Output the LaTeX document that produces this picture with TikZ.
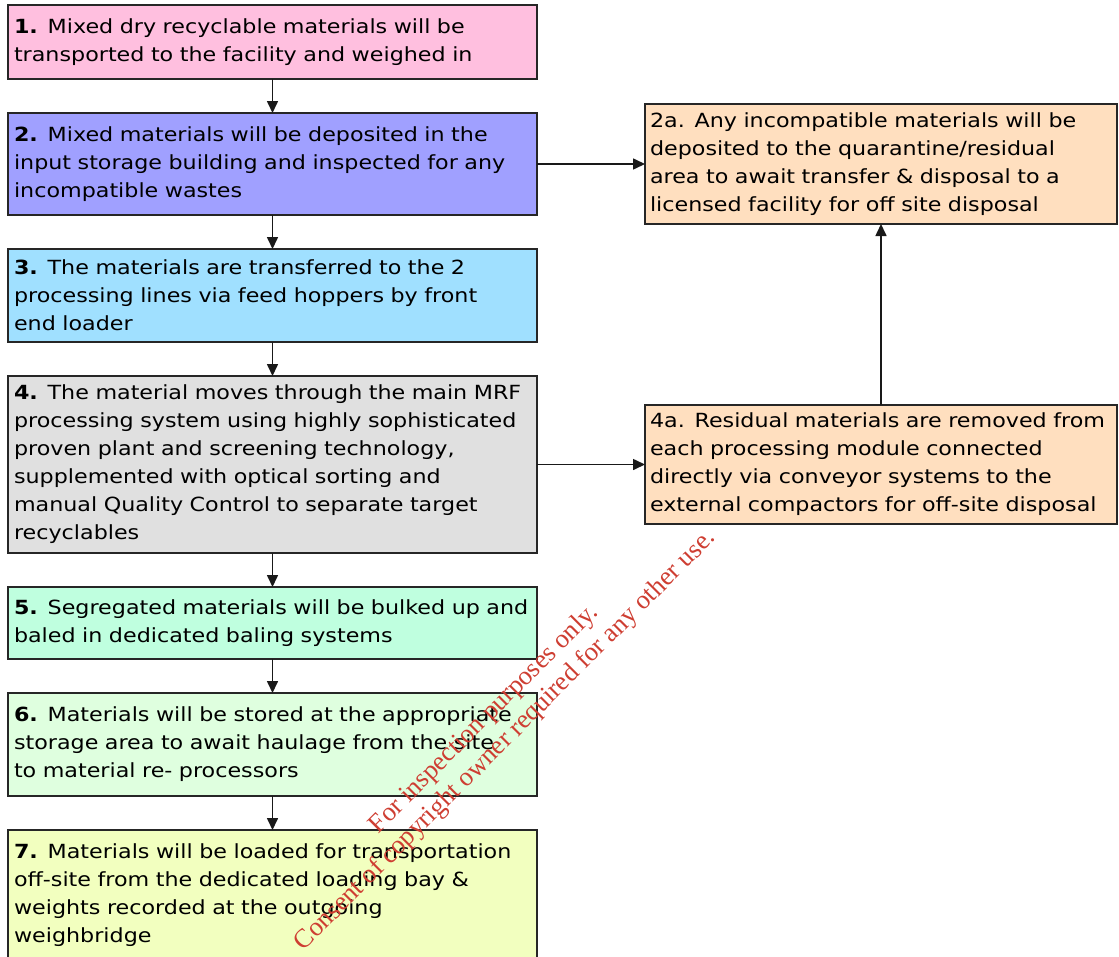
\documentclass[tikz,border=0pt]{standalone}
\usepackage{fontspec}
\setmainfont[FakeStretch=1.14]{DejaVu Sans}
\newfontfamily\markfont{Liberation Serif}
\usepackage{xcolor}
\usetikzlibrary{arrows.meta,positioning}

\definecolor{pinkbox}{RGB}{255,191,223}
\definecolor{bluebox}{RGB}{160,160,255}
\definecolor{skybox}{RGB}{160,224,255}
\definecolor{greybox}{RGB}{224,224,224}
\definecolor{mintbox}{RGB}{191,255,223}
\definecolor{palebox}{RGB}{223,255,223}
\definecolor{lemonbox}{RGB}{242,255,191}
\definecolor{peachbox}{RGB}{255,223,191}
\definecolor{markred}{RGB}{206,62,50}

\begin{document}
\begin{tikzpicture}[
    node distance=34pt,
    box/.style={draw=black!85, line width=1.6pt, outer sep=0pt, text width=517pt, inner xsep=6pt, inner ysep=0pt, align=left, font=\fontsize{19.5}{28}\selectfont},
    sidebox/.style={box, text width=462pt, inner xsep=5pt, fill=peachbox},
    arr/.style={-{Triangle[length=12pt, width=11pt]}, line width=1.6pt, black!90}
]
\useasboundingbox (0,0) rectangle (1119pt,-956pt);

\node[box, fill=pinkbox, minimum height=74pt, anchor=north west] (step1) at (8pt,-5pt) {\textbf{1.} Mixed dry recyclable materials will be\\transported to the facility and weighed in};
\node[box, fill=bluebox, minimum height=102pt, below=of step1] (step2) {\textbf{2.} Mixed materials will be deposited in the\\input storage building and inspected for any\\incompatible wastes};
\node[box, fill=skybox, minimum height=93pt, below=of step2] (step3) {\textbf{3.} The materials are transferred to the 2\\processing lines via feed hoppers by front\\end loader};
\node[box, fill=greybox, minimum height=177pt, below=of step3] (step4) {\textbf{4.} The material moves through the main MRF\\processing system using highly sophisticated\\proven plant and screening technology,\\supplemented with optical sorting and\\manual Quality Control to separate target\\recyclables};
\node[box, fill=mintbox, minimum height=72pt, below=of step4] (step5) {\textbf{5.} Segregated materials will be bulked up and\\baled in dedicated baling systems};
\node[box, fill=palebox, minimum height=103pt, below=of step5] (step6) {\textbf{6.} Materials will be stored at the appropriate\\storage area to await haulage from the site\\to material re- processors};
\node[box, fill=lemonbox, minimum height=130pt, below=of step6] (step7) {\textbf{7.} Materials will be loaded for transportation\\off-site from the dedicated loading bay \&\\weights recorded at the outgoing\\weighbridge};

\node[sidebox, minimum height=120pt, right=108pt of step2] (quarantine) {2a. Any incompatible materials will be\\deposited to the quarantine/residual\\area to await transfer \& disposal to a\\licensed facility for off site disposal};
\node[sidebox, minimum height=119pt, right=108pt of step4] (residual) {4a. Residual materials are removed from\\each processing module connected\\directly via conveyor systems to the\\external compactors for off-site disposal};

\draw[arr] (step1) -- (step2);
\draw[arr] (step2) -- (step3);
\draw[arr] (step3) -- (step4);
\draw[arr] (step4) -- (step5);
\draw[arr] (step5) -- (step6);
\draw[arr] (step6) -- (step7);
\draw[arr] (step2) -- (quarantine);
\draw[arr] (step4) -- (residual);
\draw[arr] (residual) -- (quarantine);

% watermark
\node[rotate=45, align=center, text=markred, font=\markfont\fontsize{26.5}{30}\selectfont] (stamp) at (495pt,-730pt) {For inspection purposes only.\\Consent of copyright owner required for any other use.};
\end{tikzpicture}
\end{document}
